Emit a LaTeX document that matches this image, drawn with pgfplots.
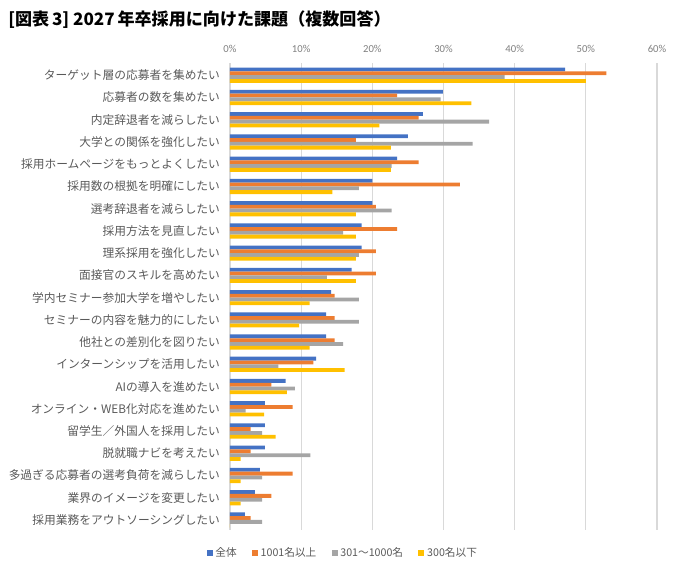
\documentclass[border=0pt]{standalone}
\usepackage{fontspec}
\setmainfont{Carlito}
\newfontfamily\jp{Noto Sans CJK JP}
\usepackage{pgfplots}
\usepackage{pgfplotstable}
\pgfplotsset{compat=1.18}

\definecolor{cAll}{HTML}{4472C4}
\definecolor{cBig}{HTML}{ED7D31}
\definecolor{cMid}{HTML}{A5A5A5}
\definecolor{cSmall}{HTML}{FFC000}
\definecolor{labgray}{HTML}{595959}
\definecolor{tickgray}{HTML}{808080}
\definecolor{gridgray}{HTML}{D9D9D9}

% share of companies (%) by company size
\pgfplotstableread{
idx all  big  mid  small
0   47.1 52.9 38.6 50.0
1   29.9 23.5 29.6 33.9
2   27.1 26.5 36.4 21.0
3   25.0 17.7 34.1 22.6
4   23.5 26.5 22.7 22.6
5   20.0 32.3 18.1 14.4
6   20.0 20.5 22.7 17.7
7   18.5 23.5 15.9 17.7
8   18.5 20.5 18.1 17.7
9   17.1 20.5 13.6 17.7
10  14.2 14.7 18.1 11.2
11  13.5 14.7 18.1  9.7
12  13.5 14.7 15.9 11.2
13  12.1 11.7  6.8 16.1
14   7.8  5.8  9.1  8.0
15   4.9  8.8  2.2  4.8
16   4.9  2.9  4.5  6.4
17   4.9  2.9 11.3  1.5
18   4.2  8.8  4.5  1.5
19   3.5  5.8  4.5  1.5
20   2.1  2.9  4.5  0.0
}\data

\begin{document}
\begin{tikzpicture}
\useasboundingbox (-172.5pt,-27.75pt) rectangle (338.25pt,397.5pt);
\begin{axis}[
  scale only axis,
  width=320.25pt, height=350.25pt,
  xbar=0pt, bar width=2.85pt,
  xmin=0, xmax=60, xtick={0,10,...,60},
  xticklabel pos=upper,
  xticklabel={\pgfmathprintnumber{\tick}\%},
  /pgf/number format/assume math mode=true,
  xticklabel style={font=\fontsize{8}{10}\selectfont, text=tickgray, yshift=4pt},
  ymin=-0.55, ymax=20.45, y dir=reverse,
  ytick={0,...,20},
  yticklabels={
    ターゲット層の応募者を集めたい,
    応募者の数を集めたい,
    内定辞退者を減らしたい,
    大学との関係を強化したい,
    採用ホームページをもっとよくしたい,
    採用数の根拠を明確にしたい,
    選考辞退者を減らしたい,
    採用方法を見直したい,
    理系採用を強化したい,
    面接官のスキルを高めたい,
    学内セミナー参加大学を増やしたい,
    セミナーの内容を魅力的にしたい,
    他社との差別化を図りたい,
    インターンシップを活用したい,
    AIの導入を進めたい,
    オンライン・WEB化対応を進めたい,
    留学生／外国人を採用したい,
    脱就職ナビを考えたい,
    多過ぎる応募者の選考負荷を減らしたい,
    業界のイメージを変更したい,
    採用業務をアウトソーシングしたい},
  yticklabel style={font=\jp\fontsize{8.8}{10}\selectfont, text=labgray, xshift=-4pt},
  axis line style={draw=none},
  major tick length=0pt,
  xmajorgrids, grid style={gridgray, line width=0.8pt},
  every axis plot post/.append style={draw=none,
    legend image code/.code={\fill[##1] (0pt,-2.2pt) rectangle (4.5pt,2.2pt);}},
  legend style={at={(0.265,-0.05)}, anchor=center, draw=none, fill=none,
    legend columns=4, font=\jp\fontsize{8}{10}\selectfont, text=labgray,
    /tikz/every even column/.append style={column sep=9.5pt},
    inner sep=0pt},
  legend cell align=left,
]
% bars within a group run top to bottom: all, 1001+, 301-1000, up to 300
\addplot[fill=cAll,   bar shift=4.275pt]  table[x=all,   y=idx] {\data};
\addplot[fill=cBig,   bar shift=1.425pt]  table[x=big,   y=idx] {\data};
\addplot[fill=cMid,   bar shift=-1.425pt] table[x=mid,   y=idx] {\data};
\addplot[fill=cSmall, bar shift=-4.275pt] table[x=small, y=idx] {\data};
\legend{全体, 1001名以上, 301～1000名, 300名以下}
\end{axis}
\node[anchor=west, font=\jp\bfseries\fontsize{12.8}{15}\selectfont, inner sep=0pt]
  at (-166.5pt,382.5pt) {[図表\,3]\ 2027\,年卒採用に向けた課題（複数回答）};
\end{tikzpicture}
\end{document}
